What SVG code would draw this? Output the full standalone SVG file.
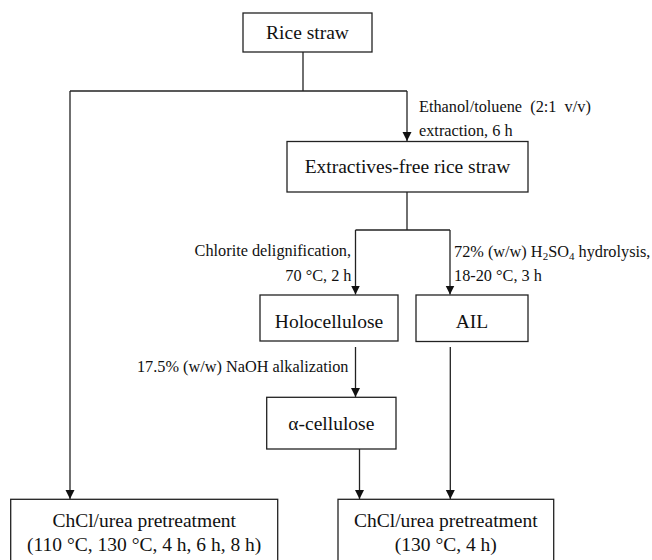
<svg xmlns="http://www.w3.org/2000/svg" width="652" height="560" viewBox="0 0 652 560">
<style>
.box{fill:#fff;stroke:#222;stroke-width:1.3}
.node{font-family:'Liberation Serif',Tinos,'Times New Roman',Times,'DejaVu Serif',serif;font-size:19.5px;fill:#111;text-anchor:middle}
.lbl{font-family:'Liberation Serif',Tinos,'Times New Roman',Times,'DejaVu Serif',serif;font-size:16.3px;fill:#111}
.edge{fill:none;stroke:#222;stroke-width:1.3}
</style>
<defs>
<marker id="arr" markerUnits="userSpaceOnUse" markerWidth="10" markerHeight="10" refX="9" refY="4.5" orient="auto">
<path d="M0,0 L9,4.5 L0,9 z" fill="#111"/>
</marker>
</defs>
<rect width="652" height="560" fill="#fff"/>
<g id="connectors">
<polyline class="edge" points="303,52 303,91"/>
<polyline class="edge" points="70,91 407,91"/>
<polyline class="edge" points="70,91 70,499" marker-end="url(#arr)"/>
<polyline class="edge" points="407,91 407,141" marker-end="url(#arr)"/>
<polyline class="edge" points="407,192 407,230"/>
<polyline class="edge" points="355.5,230 450,230"/>
<polyline class="edge" points="355.5,230 355.5,294.5" marker-end="url(#arr)"/>
<polyline class="edge" points="450,230 450,294.5" marker-end="url(#arr)"/>
<polyline class="edge" points="355.5,347 355.5,397" marker-end="url(#arr)"/>
<polyline class="edge" points="359.5,449 359.5,499" marker-end="url(#arr)"/>
<polyline class="edge" points="450.3,347 450.3,499" marker-end="url(#arr)"/>
</g>
<g id="labels">
<text class="lbl" x="419" y="112" xml:space="preserve">Ethanol/toluene  (2:1  v/v)</text>
<text class="lbl" x="419" y="136">extraction, 6 h</text>
<text class="lbl" x="351" y="256" text-anchor="end">Chlorite delignification,</text>
<text class="lbl" x="351.5" y="281" text-anchor="end">70 °C, 2 h</text>
<text class="lbl" x="454" y="257">72% (w/w) H<tspan font-size="11" dy="3">2</tspan><tspan dy="-3">SO</tspan><tspan font-size="11" dy="3">4</tspan><tspan dy="-3"> hydrolysis,</tspan></text>
<text class="lbl" x="454" y="281">18-20 °C, 3 h</text>
<text class="lbl" x="348.5" y="372" text-anchor="end">17.5% (w/w) NaOH alkalization</text>
</g>
<g id="rice-straw">
<rect class="box" x="243" y="13" width="129" height="39"/>
<text class="node" x="307.5" y="39.3">Rice straw</text>
</g>
<g id="extractives-free">
<rect class="box" x="287" y="141.5" width="241" height="50.5"/>
<text class="node" x="407.5" y="173.3">Extractives-free rice straw</text>
</g>
<g id="holocellulose">
<rect class="box" x="260" y="295" width="138" height="46"/>
<text class="node" x="329" y="327.7">Holocellulose</text>
</g>
<g id="ail">
<rect class="box" x="416" y="295" width="112" height="46.5"/>
<text class="node" x="472" y="328.3">AIL</text>
</g>
<g id="alpha-cellulose">
<rect class="box" x="266.7" y="397.3" width="129.3" height="51.7"/>
<text class="node" x="331.3" y="430">α-cellulose</text>
</g>
<g id="pretreatment-left">
<rect class="box" x="10.7" y="499.3" width="267" height="64"/>
<text class="node" x="144.2" y="526.7">ChCl/urea pretreatment</text>
<text class="node" x="144.2" y="550.7">(110 °C, 130 °C, 4 h, 6 h, 8 h)</text>
</g>
<g id="pretreatment-right">
<rect class="box" x="338" y="499.3" width="215.7" height="64"/>
<text class="node" x="445.8" y="526.7">ChCl/urea pretreatment</text>
<text class="node" x="445.8" y="550.7">(130 °C, 4 h)</text>
</g>
</svg>
